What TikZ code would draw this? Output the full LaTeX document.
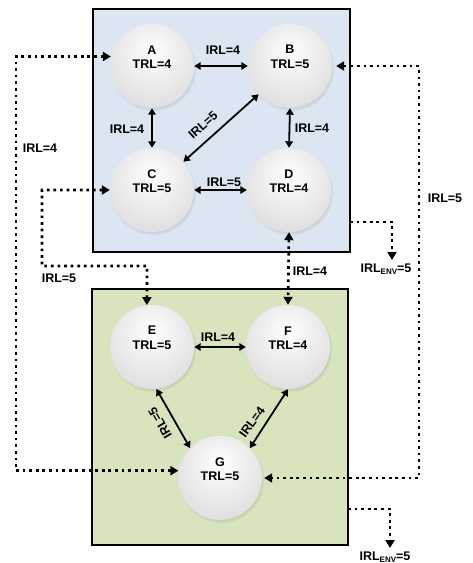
\documentclass[tikz,border=0pt]{standalone}
\usepackage{fontspec}
\setmainfont{Liberation Sans}
\usetikzlibrary{arrows.meta,shadows,calc}
\definecolor{upfill}{HTML}{DCE6F2}
\definecolor{lowfill}{HTML}{D7E4BD}
% soft grey sphere with the highlight shifted upwards
\pgfdeclareradialshading{orb}{\pgfpoint{0bp}{10bp}}{color(0bp)=(white); color(12bp)=(black!5); color(32bp)=(black!13); color(48bp)=(black!24); color(60bp)=(black!33); color(70bp)=(black!33)}
\tikzset{
  orb/.style={circle, minimum size=84pt, inner sep=0pt, shading=orb,
    circular drop shadow={shadow xshift=1.2pt, shadow yshift=-2.2pt, opacity=0.35, shadow scale=1.03}},
  tag/.style={font=\bfseries\fontsize{12.5}{14.5}\selectfont, align=center, inner sep=0pt},
  pane/.style={draw, line width=2.2pt, inner sep=0pt},
  link/.style={line width=1.8pt, {Triangle[length=6.5pt,width=7.5pt]}-{Triangle[length=6.5pt,width=7.5pt]}},
  dotline/.style={line width=2.7pt, dash pattern=on 2.7pt off 3.9pt},
  dotboth/.style={dotline, {Triangle[length=8pt,width=9pt]}-{Triangle[length=8pt,width=9pt]}},
  dotone/.style={dotline, -{Triangle[length=8pt,width=9pt]}}
}
\newcommand{\envlabel}{IRL{\fontsize{8}{8}\selectfont\raisebox{-1.6pt}{ENV}}=5}
\begin{document}
\begin{tikzpicture}[x=1pt, y=-1pt]
\useasboundingbox (0,0) rectangle (472,563);

% subsystem panes
\node[pane, fill=upfill, minimum width=257pt, minimum height=243pt] (up) at (221.5,130.5) {};
\node[pane, fill=lowfill, minimum width=256pt, minimum height=256pt] (low) at (220,417) {};

% components
\node[orb] (A) at (152,66) {};
\node[orb] (B) at (290,66) {};
\node[orb] (C) at (152,190) {};
\node[orb] (D) at (289,190) {};
\node[orb] (E) at (152,347) {};
\node[orb] (F) at (288,347) {};
\node[orb] (G) at (220,478) {};

\node[tag] (At) at ($(A)+(0,-9)$) {A\\TRL=4};
\node[tag] (Bt) at ($(B)+(0,-9)$) {B\\TRL=5};
\node[tag] (Ct) at ($(C)+(0,-9)$) {C\\TRL=5};
\node[tag] (Dt) at ($(D)+(0,-9)$) {D\\TRL=4};
\node[tag] (Et) at ($(E)+(0,-9)$) {E\\TRL=5};
\node[tag] (Ft) at ($(F)+(0,-9)$) {F\\TRL=4};
\node[tag] (Gt) at ($(G)+(0,-9)$) {G\\TRL=5};

% routing points of the dotted links
\coordinate (lx) at (16,0);
\coordinate (rx) at (419,0);
\coordinate (c1) at (42,266);
\coordinate (c2) at (147,266);
\coordinate (env1) at (350,222);
\coordinate (env1t) at (392,260);
\coordinate (env2) at (348,509);
\coordinate (env2t) at (390,548);

% dotted links between subsystems
\draw[dotboth] (A.167) -- (lx |- A.167) -- (lx |- G.170) -- (G.170);
\draw[dotboth] (C.west) -- (c1 |- C.west) -- (c1) -- (c2) -- (E.97);
\draw[dotboth] (D.south) -- (F.north);
\draw[dotboth, shorten <=4pt, shorten >=2pt] (B.east) -- (rx |- B.east) -- (rx |- G.east) -- (G.east);
\draw[dotone] (env1) -| (env1t);
\draw[dotone] (env2) -| (env2t);

% solid links inside subsystems
\draw[link] (A.east) -- (B.west);
\draw[link] (A.south) -- (C.north);
\draw[link] (B.south) -- (D.north);
\draw[link] (C.east) -- (D.west);
\draw[link] (B.222) -- (C.42);
\draw[link] (E.east) -- (F.west);
\draw[link] (E.-84) -- (G.135);
\draw[link] (F.south) -- (G.45);

% link labels
\node[tag] (lAB) at (223,50) {IRL=4};
\node[tag] (lAC) at (127,129) {IRL=4};
\node[tag] (lBD) at (312,128) {IRL=4};
\node[tag] (lCD) at (224,182) {IRL=5};
\node[tag, rotate=42] (lBC) at (203,125) {IRL=5};
\node[tag] (lEF) at (218,337) {IRL=4};
\node[tag, rotate=120] (lEG) at (160,423) {IRL=5};
\node[tag, rotate=54] (lFG) at (252,422) {IRL=4};
\node[tag] (lAG) at (40,148) {IRL=4};
\node[tag] (lCE) at (59,278) {IRL=5};
\node[tag] (lDF) at (310,271) {IRL=4};
\node[tag] (lBG) at (445,198) {IRL=5};
\node[tag] (lenv1) at (386,269) {\envlabel};
\node[tag] (lenv2) at (385,557) {\envlabel};
\end{tikzpicture}
\end{document}
